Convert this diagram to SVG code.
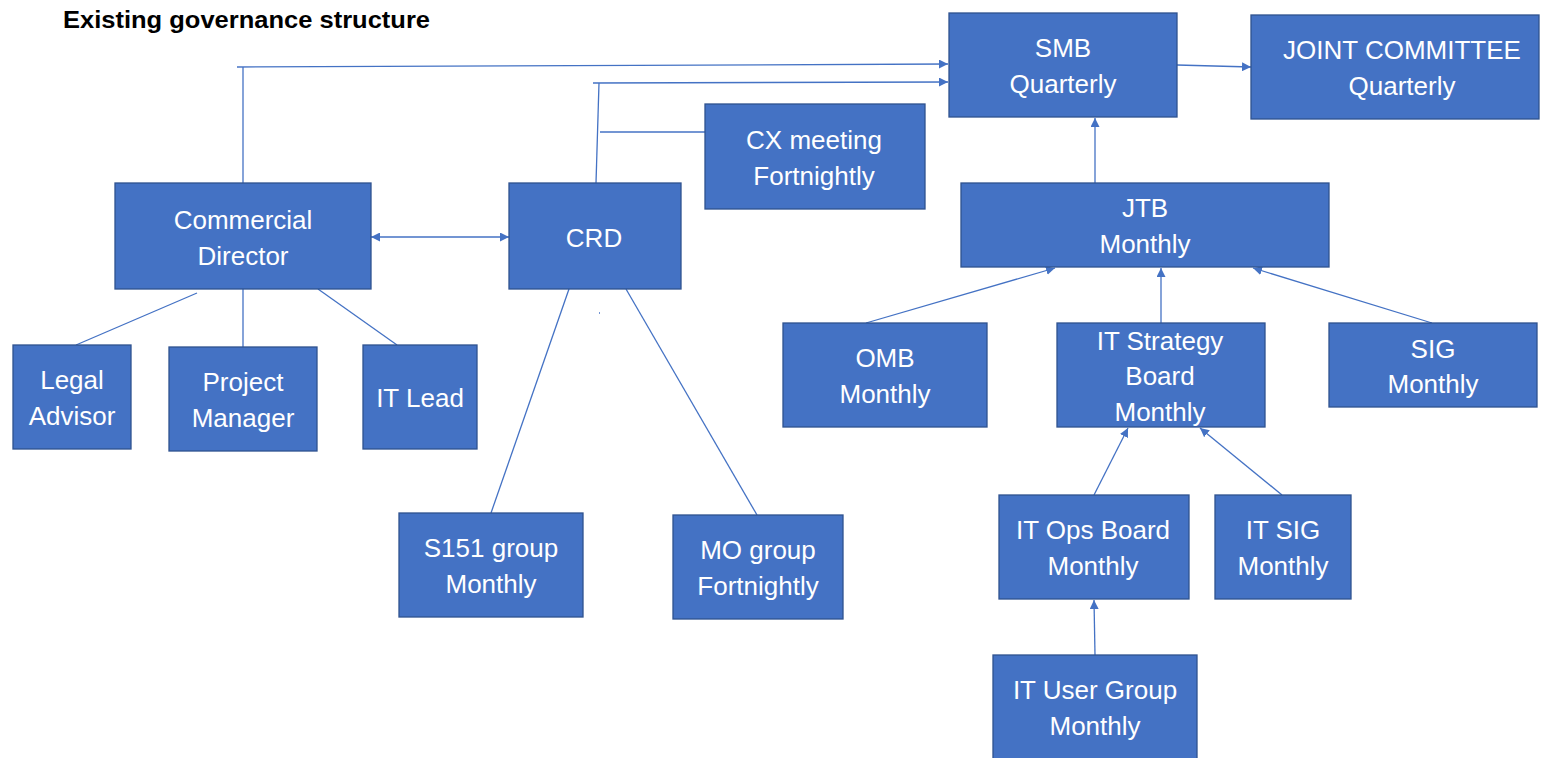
<svg xmlns="http://www.w3.org/2000/svg" width="1545" height="758" viewBox="0 0 1545 758">
<style>
.box{fill:#4472C4;stroke:#2F528F;stroke-width:1.3}
.t{font-family:"Liberation Sans",Arial,sans-serif;font-size:26px;fill:#ffffff;text-anchor:middle}
.title{font-family:"Liberation Sans",Arial,sans-serif;font-size:23px;font-weight:bold;fill:#000}
.ln{stroke:#4472C4;stroke-width:1.3;fill:none}
.ar{marker-end:url(#ah)}
</style>
<defs>
<marker id="ah" viewBox="0 0 10 10" refX="10" refY="5" markerWidth="9" markerHeight="9" markerUnits="userSpaceOnUse" orient="auto-start-reverse">
<path d="M0,0 L10,5 L0,10 z" fill="#4472C4"/>
</marker>
</defs>
<rect width="1545" height="758" fill="#ffffff"/>
<text class="title" x="63" y="28" textLength="367" lengthAdjust="spacingAndGlyphs">Existing governance structure</text>
<g id="connectors">
<line class="ln" x1="243" y1="183" x2="243" y2="67"/>
<line class="ln ar" x1="237" y1="67" x2="948" y2="64"/>
<line class="ln" x1="596" y1="183" x2="599" y2="83"/>
<line class="ln ar" x1="593" y1="83" x2="948" y2="82"/>
<line class="ln" x1="600" y1="132" x2="705" y2="132"/>
<line class="ln" x1="371" y1="237" x2="509" y2="237" marker-start="url(#ah)" marker-end="url(#ah)"/>
<line class="ln" x1="197" y1="293" x2="76" y2="345"/>
<line class="ln" x1="243" y1="289" x2="243" y2="347"/>
<line class="ln" x1="318" y1="289" x2="397" y2="345"/>
<line class="ln" x1="569" y1="289" x2="491" y2="513"/>
<line class="ln" x1="626" y1="289" x2="757" y2="515"/>
<line class="ln" x1="599" y1="313" x2="600" y2="313"/>
<line class="ln ar" x1="1177" y1="65" x2="1251" y2="67"/>
<line class="ln ar" x1="1095" y1="183" x2="1095" y2="118"/>
<line class="ln ar" x1="866" y1="323" x2="1055" y2="268"/>
<line class="ln ar" x1="1161" y1="323" x2="1161" y2="268"/>
<line class="ln ar" x1="1432" y1="323" x2="1253" y2="268"/>
<line class="ln ar" x1="1094" y1="495" x2="1128" y2="428"/>
<line class="ln ar" x1="1282" y1="495" x2="1200" y2="428"/>
<line class="ln ar" x1="1095" y1="655" x2="1094" y2="600"/>
</g>
<g id="smb"><rect class="box" x="949" y="13" width="228" height="104"/><text class="t" x="1063" y="57">SMB</text><text class="t" x="1063" y="93">Quarterly</text></g>
<g id="joint"><rect class="box" x="1251" y="15" width="288" height="104"/><text class="t" x="1402" y="59">JOINT COMMITTEE</text><text class="t" x="1402" y="95">Quarterly</text></g>
<g id="cx"><rect class="box" x="705" y="104" width="220" height="105"/><text class="t" x="814" y="149">CX meeting</text><text class="t" x="814" y="185">Fortnightly</text></g>
<g id="cd"><rect class="box" x="115" y="183" width="256" height="106"/><text class="t" x="243" y="229">Commercial</text><text class="t" x="243" y="265">Director</text></g>
<g id="crd"><rect class="box" x="509" y="183" width="172" height="106"/><text class="t" x="594" y="247">CRD</text></g>
<g id="jtb"><rect class="box" x="961" y="183" width="368" height="84"/><text class="t" x="1145" y="217">JTB</text><text class="t" x="1145" y="253">Monthly</text></g>
<g id="omb"><rect class="box" x="783" y="323" width="204" height="104"/><text class="t" x="885" y="367">OMB</text><text class="t" x="885" y="403">Monthly</text></g>
<g id="itsb"><rect class="box" x="1057" y="323" width="208" height="104"/><text class="t" x="1160" y="350">IT Strategy</text><text class="t" x="1160" y="385">Board</text><text class="t" x="1160" y="421">Monthly</text></g>
<g id="sig"><rect class="box" x="1329" y="323" width="208" height="84"/><text class="t" x="1433" y="358">SIG</text><text class="t" x="1433" y="393">Monthly</text></g>
<g id="legal"><rect class="box" x="13" y="345" width="118" height="104"/><text class="t" x="72" y="389">Legal</text><text class="t" x="72" y="425">Advisor</text></g>
<g id="pm"><rect class="box" x="169" y="347" width="148" height="104"/><text class="t" x="243" y="391">Project</text><text class="t" x="243" y="427">Manager</text></g>
<g id="itlead"><rect class="box" x="363" y="345" width="114" height="104"/><text class="t" x="420" y="407">IT Lead</text></g>
<g id="s151"><rect class="box" x="399" y="513" width="184" height="104"/><text class="t" x="491" y="557">S151 group</text><text class="t" x="491" y="593">Monthly</text></g>
<g id="mo"><rect class="box" x="673" y="515" width="170" height="104"/><text class="t" x="758" y="559">MO group</text><text class="t" x="758" y="595">Fortnightly</text></g>
<g id="itops"><rect class="box" x="999" y="495" width="190" height="104"/><text class="t" x="1093" y="539">IT Ops Board</text><text class="t" x="1093" y="575">Monthly</text></g>
<g id="itsig"><rect class="box" x="1215" y="495" width="136" height="104"/><text class="t" x="1283" y="539">IT SIG</text><text class="t" x="1283" y="575">Monthly</text></g>
<g id="ituser"><rect class="box" x="993" y="655" width="204" height="108"/><text class="t" x="1095" y="699">IT User Group</text><text class="t" x="1095" y="735">Monthly</text></g>
</svg>
